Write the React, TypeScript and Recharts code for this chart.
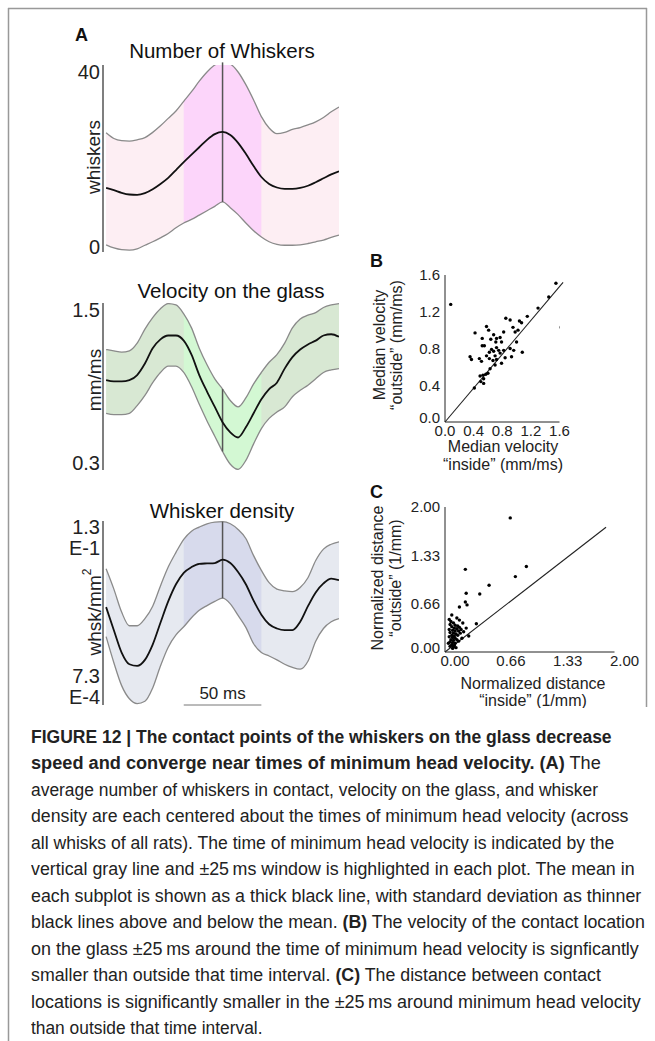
import React, { useLayoutEffect, useRef, useState } from 'react';
import { ComposedChart, Area, Line, XAxis, YAxis, ReferenceLine, ScatterChart, Scatter } from 'recharts';

const FONT = '"Liberation Sans", Arial, Helvetica, sans-serif';

// time axis of the A panels (ms, relative to minimum head velocity)
const TIMES = [-75, -70, -65, -60, -55, -50, -45, -40, -35, -30, -25, -20, -15, -10, -5, 0, 5, 10, 15, 20, 25, 30, 35, 40, 45, 50, 55, 60, 65, 70, 75];

// Number of whiskers
const WHISK_MEAN = [13.5, 13.0, 12.4, 12.0, 11.9, 12.3, 13.2, 14.4, 15.8, 17.6, 19.4, 21.1, 22.8, 24.5, 25.8, 26.3, 25.6, 23.8, 21.3, 18.5, 16.0, 14.4, 13.6, 13.3, 13.3, 13.5, 14.0, 14.8, 15.7, 16.6, 17.3];
const WHISK_HI = [26.1, 24.8, 24.3, 24.2, 24.5, 25.0, 26.2, 27.7, 29.4, 31.1, 33.3, 35.5, 37.9, 40.0, 41.6, 42.2, 41.8, 40.0, 37.1, 33.6, 29.8, 27.2, 25.9, 26.2, 26.9, 27.3, 27.9, 28.6, 29.6, 30.9, 32.0];
const WHISK_LO = [0.5, -0.2, -0.6, -0.7, -0.4, 0.4, 1.2, 2.1, 3.1, 4.4, 5.5, 6.3, 7.3, 8.3, 9.3, 10.3, 9.0, 7.4, 5.5, 3.7, 2.3, 1.2, 0.6, 0.4, 0.4, 0.5, 0.8, 1.2, 1.6, 2.2, 2.7];

// Velocity on the glass (mm/ms)
const VEL_MEAN = [0.95, 0.94, 0.94, 0.95, 0.99, 1.08, 1.2, 1.27, 1.3, 1.3, 1.26, 1.15, 0.99, 0.86, 0.74, 0.62, 0.54, 0.5, 0.58, 0.69, 0.8, 0.88, 0.93, 1.04, 1.13, 1.19, 1.23, 1.26, 1.3, 1.31, 1.29];
const VEL_HI = [1.19, 1.18, 1.17, 1.18, 1.24, 1.35, 1.44, 1.51, 1.55, 1.54, 1.47, 1.36, 1.2, 1.07, 0.96, 0.88, 0.79, 0.74, 0.81, 0.92, 1.01, 1.09, 1.15, 1.24, 1.36, 1.43, 1.46, 1.48, 1.52, 1.54, 1.55];
const VEL_LO = [0.69, 0.68, 0.68, 0.69, 0.75, 0.83, 0.93, 1.01, 1.06, 1.06, 1.01, 0.9, 0.76, 0.63, 0.51, 0.39, 0.29, 0.25, 0.32, 0.45, 0.57, 0.65, 0.7, 0.74, 0.82, 0.87, 0.91, 0.96, 1.01, 1.03, 1.04];

// Whisker density (whsk/mm^2, log axis)
const DENS_MEAN = [0.0115, 0.006, 0.0032, 0.0023, 0.0022, 0.0026, 0.004, 0.0074, 0.0135, 0.0219, 0.0302, 0.0355, 0.0389, 0.0394, 0.0398, 0.0437, 0.0398, 0.0309, 0.0219, 0.0138, 0.0093, 0.0071, 0.0063, 0.006, 0.006, 0.0076, 0.0118, 0.0174, 0.0224, 0.0257, 0.0245];
const DENS_HI = [0.0339, 0.0191, 0.01, 0.0068, 0.0068, 0.0083, 0.0118, 0.0209, 0.0355, 0.0537, 0.0776, 0.0977, 0.1096, 0.1202, 0.1259, 0.1274, 0.1202, 0.1023, 0.0794, 0.049, 0.0324, 0.0229, 0.0191, 0.0182, 0.0178, 0.02, 0.0263, 0.0427, 0.0589, 0.0676, 0.0724];
const DENS_LO = [0.005, 0.0024, 0.00126, 0.00087, 0.00076, 0.00081, 0.00118, 0.00219, 0.00372, 0.00525, 0.00661, 0.00851, 0.0105, 0.012, 0.0135, 0.0148, 0.0126, 0.0091, 0.0065, 0.0041, 0.0032, 0.0029, 0.0026, 0.0023, 0.0021, 0.002, 0.0025, 0.0044, 0.0063, 0.0076, 0.0083];

const WINDOW = 25;

// B: median velocity inside vs outside the window
const B_INSIDE = [0.08, 0.42, 0.58, 0.52, 0.55, 0.48, 0.51, 0.41, 0.68, 0.72, 0.64, 0.77, 0.79, 0.71, 0.75, 0.65, 0.68, 0.7, 0.62, 0.58, 0.62, 0.67, 0.72, 0.77, 0.82, 0.84, 0.91, 0.93, 1.0, 1.04, 1.07, 0.95, 0.63, 0.57, 0.53, 0.49, 0.54, 0.5, 0.54, 0.6, 0.7, 0.79, 0.91, 0.85, 0.98, 0.82, 1.02, 0.96, 0.61, 0.52, 0.35, 0.37, 0.72, 1.08, 1.3, 1.45, 1.55, 1.62, 1.15];
const B_OUTSIDE = [1.28, 0.97, 1.04, 0.83, 0.83, 0.69, 0.66, 0.37, 0.95, 0.91, 0.9, 0.92, 0.87, 0.87, 0.78, 0.79, 0.77, 0.72, 0.76, 0.72, 0.69, 0.67, 0.68, 0.75, 0.78, 0.7, 0.8, 0.71, 0.87, 1.1, 1.08, 1.03, 0.58, 0.52, 0.51, 0.5, 0.47, 0.44, 0.42, 0.53, 0.62, 0.64, 1.11, 1.13, 0.98, 0.98, 1.0, 0.78, 1.0, 0.91, 0.71, 0.68, 0.81, 0.76, 1.24, 1.36, 1.51, 1.03, 1.15];
const B_TICKS = [0, 0.4, 0.8, 1.2, 1.6];
const B_DIAG = [{ x: 0, y: 0 }, { x: 1.65, y: 1.52 }];

// C: normalized distance inside vs outside the window
const C_INSIDE = [0.77, 0.96, 0.83, 0.24, 0.52, 0.41, 0.25, 0.24, 0.26, 0.17, 0.37, 0.08, 0.05, 0.07, 0.1, 0.06, 0.12, 0.15, 0.08, 0.11, 0.14, 0.17, 0.05, 0.09, 0.12, 0.16, 0.19, 0.06, 0.1, 0.13, 0.08, 0.11, 0.15, 0.05, 0.09, 0.12, 0.07, 0.1, 0.14, 0.06, 0.09, 0.12, 0.08, 0.11, 0.06, 0.1, 0.13, 0.16, 0.18, 0.21, 0.22, 0.2, 0.04, 0.17, 0.14, 0.25, 0.09, 0.28];
const C_OUTSIDE = [1.85, 1.18, 1.04, 1.14, 0.92, 0.8, 0.81, 0.69, 0.65, 0.62, 0.39, 0.51, 0.45, 0.42, 0.4, 0.38, 0.37, 0.36, 0.35, 0.33, 0.32, 0.34, 0.31, 0.3, 0.29, 0.29, 0.31, 0.27, 0.26, 0.25, 0.23, 0.22, 0.23, 0.21, 0.2, 0.19, 0.17, 0.16, 0.17, 0.14, 0.13, 0.12, 0.1, 0.09, 0.08, 0.07, 0.06, 0.15, 0.26, 0.4, 0.28, 0.19, 0.12, 0.44, 0.47, 0.33, 0.05, 0.22];
const C_TICKS = [0, 0.66, 1.33, 2.0];
const C_DIAG = [{ x: 0, y: 0 }, { x: 1.9, y: 1.72 }];

const CAPTION: { parts: [string, boolean][]; w: number }[] = [
  { parts: [['FIGURE 12 | The contact points of the whiskers on the glass decrease', true]], w: 581 },
  { parts: [['speed and converge near times of minimum head velocity. (A)', true], [' The', false]], w: 570 },
  { parts: [['average number of whiskers in contact, velocity on the glass, and whisker', false]], w: 567 },
  { parts: [['density are each centered about the times of minimum head velocity (across', false]], w: 597 },
  { parts: [['all whisks of all rats). The time of minimum head velocity is indicated by the', false]], w: 583 },
  { parts: [['vertical gray line and \u00b125\u2009ms window is highlighted in each plot. The mean in', false]], w: 604 },
  { parts: [['each subplot is shown as a thick black line, with standard deviation as thinner', false]], w: 610 },
  { parts: [['black lines above and below the mean. ', false], ['(B)', true], [' The velocity of the contact location', false]], w: 614 },
  { parts: [['on the glass \u00b125\u2009ms around the time of minimum head velocity is signficantly', false]], w: 608 },
  { parts: [['smaller than outside that time interval. ', false], ['(C)', true], [' The distance between contact', false]], w: 570 },
  { parts: [['locations is significantly smaller in the \u00b125\u2009ms around minimum head velocity', false]], w: 610 },
  { parts: [['than outside that time interval.', false]], w: 231 },
];

type Row = { t: number; band: [number, number]; hl: [number, number] | null; mean: number; hi: number; lo: number };

function buildRows(lo: number[], mean: number[], hi: number[]): Row[] {
  return TIMES.map((t, i) => ({
    t,
    band: [lo[i], hi[i]],
    hl: Math.abs(t) <= WINDOW ? [lo[i], hi[i]] : null,
    mean: mean[i],
    hi: hi[i],
    lo: lo[i],
  }));
}

const DensityTick = (props: any) => {
  const { x, y, payload } = props;
  const top = payload.value > 0.01;
  const [a, b] = top ? ['1.3', 'E-1'] : ['7.3', 'E-4'];
  const y1 = top ? y + 13 : y - 22;
  return (
    <text x={x} y={y1} textAnchor="end" fontSize={20} fill="#222" fontFamily={FONT}>
      <tspan x={x}>{a}</tspan>
      <tspan x={x} dy={21}>{b}</tspan>
    </text>
  );
};

function TracePanel(props: {
  rows: Row[]; top: number; height: number; plotTop: number; plotBottom: number;
  domain: [number, number]; ticks: number[]; log?: boolean; tick?: any;
  fill: string; hlFill: string; children?: React.ReactNode;
}) {
  const { rows, top, height, plotTop, plotBottom, domain, ticks, log, tick, fill, hlFill, children } = props;
  const zero = rows.find((r) => r.t === 0)!;
  return (
    <div style={{ position: 'absolute', left: 0, top }}>
      <ComposedChart
        width={360}
        height={height}
        data={rows}
        margin={{ top: plotTop - top, bottom: top + height - plotBottom, left: 43, right: 21 }}
      >
        <XAxis dataKey="t" type="number" domain={[-77, 75]} hide allowDataOverflow />
        <YAxis
          domain={domain}
          ticks={ticks}
          scale={log ? 'log' : 'auto'}
          type="number"
          allowDataOverflow
          width={60}
          interval={0}
          axisLine={{ stroke: '#555', strokeWidth: 1.5 }}
          tickLine={false}
          tickSize={0}
          tickMargin={3}
          tick={tick || { fontSize: 20, fill: '#222', fontFamily: FONT }}
        />
        <Area dataKey="band" type="monotone" fill={fill} fillOpacity={1} stroke="none" isAnimationActive={false} />
        <Area dataKey="hl" type="monotone" fill={hlFill} fillOpacity={1} stroke="none" isAnimationActive={false} />
        <Line dataKey="hi" type="monotone" stroke="#8a8a8a" strokeWidth={1.3} dot={false} isAnimationActive={false} />
        <Line dataKey="lo" type="monotone" stroke="#8a8a8a" strokeWidth={1.3} dot={false} isAnimationActive={false} />
        <ReferenceLine
          segment={[{ x: 0, y: zero.lo }, { x: 0, y: zero.hi }]}
          stroke="#555"
          strokeWidth={1.5}
          ifOverflow="visible"
        />
        <Line dataKey="mean" type="monotone" stroke="#111" strokeWidth={1.8} dot={false} isAnimationActive={false} />
        {children}
      </ComposedChart>
    </div>
  );
}

const dotShape = (p: any) => <circle cx={p.cx} cy={p.cy} r={1.7} fill="#000" />;

const makeYTick = (digits: number) => (p: any) => (
  <text
    x={p.x}
    y={p.y + (p.payload.value === 0 ? -4 : 0)}
    dy="0.355em"
    textAnchor="end"
    fontSize={15}
    fill="#222"
    fontFamily={FONT}
  >
    {Number(p.payload.value).toFixed(digits)}
  </text>
);

function ScatterPanel(props: {
  left: number; top: number; width: number; height: number; margin: any;
  xs: number[]; ys: number[]; domain: [number, number]; ticks: number[];
  digits: number; diag: { x: number; y: number }[]; xTickShift: number;
}) {
  const { left, top, width, height, margin, xs, ys, domain, ticks, digits, diag, xTickShift } = props;
  const pts = xs.map((x, i) => ({ x, y: ys[i] }));
  const tickStyle = { fontSize: 15, fill: '#222', fontFamily: FONT };
  return (
    <div style={{ position: 'absolute', left, top }}>
      <ScatterChart width={width} height={height} margin={margin}>
        <XAxis
          dataKey="x"
          type="number"
          domain={domain}
          ticks={ticks}
          interval={0}
          height={20}
          allowDataOverflow
          axisLine={{ stroke: '#222' }}
          tickLine={false}
          tickSize={0}
          tickMargin={3}
          tickFormatter={(v: number) => v.toFixed(digits)}
          tick={{ ...tickStyle, dx: xTickShift } as any}
        />
        <YAxis
          dataKey="y"
          type="number"
          domain={domain}
          ticks={ticks}
          interval={0}
          width={40}
          allowDataOverflow
          axisLine={{ stroke: '#222' }}
          tickLine={false}
          tickSize={0}
          tickMargin={5}
          tick={makeYTick(digits)}
        />
        <ReferenceLine segment={diag} stroke="#222" strokeWidth={1.1} ifOverflow="visible" />
        <Scatter data={pts} shape={dotShape} isAnimationActive={false} />
      </ScatterChart>
    </div>
  );
}

function FitLine({ top, width, parts }: { top: number; width: number; parts: [string, boolean][] }) {
  const ref = useRef<HTMLSpanElement>(null);
  const [s, setS] = useState(1);
  useLayoutEffect(() => {
    if (ref.current) {
      const w = ref.current.offsetWidth;
      if (w > 0) setS(width / w);
    }
  }, [width]);
  return (
    <div
      style={{
        position: 'absolute',
        left: 31,
        top,
        whiteSpace: 'nowrap',
        transformOrigin: '0 0',
        transform: `scaleX(${s})`,
        fontSize: 17.5,
        lineHeight: '26px',
        color: '#222',
      }}
    >
      <span ref={ref} style={{ display: 'inline-block' }}>
        {parts.map(([txt, bold], i) => (
          <span key={i} style={{ fontWeight: bold ? 700 : 400 }}>{txt}</span>
        ))}
      </span>
    </div>
  );
}

export default function App() {
  const whisk = buildRows(WHISK_LO, WHISK_MEAN, WHISK_HI);
  const vel = buildRows(VEL_LO, VEL_MEAN, VEL_HI);
  const dens = buildRows(DENS_LO, DENS_MEAN, DENS_HI);
  const rot = (x: number, y: number) => `translate(${x},${y}) rotate(-90)`;
  const title = { fontSize: 20.5, fill: '#111', textAnchor: 'middle' as const };
  const small = { fontSize: 16, fill: '#222', textAnchor: 'middle' as const, dominantBaseline: 'central' as const };

  return (
    <div style={{ position: 'relative', width: 655, height: 1041, background: '#fff', fontFamily: FONT, overflow: 'hidden' }}>
      <style>{'body{margin:0}'}</style>
      <div style={{ position: 'absolute', left: 0, top: 0, width: 655, height: 708, overflow: 'hidden' }}>
        <TracePanel rows={whisk} top={40} height={230} plotTop={65} plotBottom={252}
          domain={[-1.14, 41.6]} ticks={[0, 40]} fill="#fdeef3" hlFill="#fcd5fa" />
        <TracePanel rows={vel} top={290} height={200} plotTop={303} plotBottom={470}
          domain={[0.245, 1.555]} ticks={[0.3, 1.5]} fill="#d8e8d3" hlFill="#d3f8d3" />
        <TracePanel rows={dens} top={505} height={215} plotTop={521} plotBottom={705}
          domain={[0.00073, 0.13]} ticks={[0.00073, 0.13]} log tick={<DensityTick />}
          fill="#e6e9f0" hlFill="#d7daec">
          <ReferenceLine
            segment={[{ x: -WINDOW, y: 0.00073 }, { x: WINDOW, y: 0.00073 }]}
            stroke="#777"
            strokeWidth={1}
            ifOverflow="visible"
            label={{ value: '50 ms', position: 'top', offset: 6, fontSize: 17, fill: '#222', fontFamily: FONT }}
          />
        </TracePanel>

        <ScatterPanel left={330} top={250} width={250} height={200}
          margin={{ top: 25, right: 20.5, left: 75, bottom: 8 }}
          xs={B_INSIDE} ys={B_OUTSIDE} domain={[0, 1.6]} ticks={B_TICKS} digits={1} diag={B_DIAG} xTickShift={0} />
        <ScatterPanel left={330} top={480} width={325} height={200}
          margin={{ top: 27, right: 40.5, left: 75, bottom: 8 }}
          xs={C_INSIDE} ys={C_OUTSIDE} domain={[0, 2]} ticks={C_TICKS} digits={2} diag={C_DIAG} xTickShift={10} />

        <svg width={655} height={708} style={{ position: 'absolute', left: 0, top: 0, pointerEvents: 'none' }} fontFamily={FONT}>
          <text x={75} y={41} fontSize={18} fontWeight={700} fill="#111">A</text>
          <text x={222} y={58} {...title}>Number of Whiskers</text>
          <text x={231} y={298} {...title}>Velocity on the glass</text>
          <text x={222} y={518} {...title}>Whisker density</text>
          <text transform={rot(93, 157)} fontSize={19} fill="#222" textAnchor="middle" dominantBaseline="central">whiskers</text>
          <text transform={rot(94, 380)} fontSize={19} fill="#222" textAnchor="middle" dominantBaseline="central">mm/ms</text>
          <text transform={rot(94, 612)} fontSize={19} fill="#222" textAnchor="middle" dominantBaseline="central">
            whsk/mm<tspan fontSize={12} dy={-7}>2</tspan>
          </text>

          <text x={370} y={267} fontSize={18} fontWeight={700} fill="#111">B</text>
          <text transform={rot(379, 345)} {...small}>Median velocity</text>
          <text transform={rot(396, 345)} {...small}>{'\u201coutside\u201d (mm/ms)'}</text>
          <text x={503} y={446} {...small}>Median velocity</text>
          <text x={503} y={464} {...small}>{'\u201cinside\u201d (mm/ms)'}</text>

          <text x={370} y={498} fontSize={18} fontWeight={700} fill="#111">C</text>
          <text transform={rot(377, 578)} {...small}>Normalized distance</text>
          <text transform={rot(395, 578)} {...small}>{'\u201coutside\u201d (1/mm)'}</text>
          <text x={533} y={683} {...small}>Normalized distance</text>
          <text x={533} y={700} {...small}>{'\u201cinside\u201d (1/mm)'}</text>
        </svg>
      </div>

      <svg width={655} height={1041} style={{ position: 'absolute', left: 0, top: 0, pointerEvents: 'none' }}>
        <line x1={8} y1={8.5} x2={647} y2={8.5} stroke="#999" strokeWidth={1.5} />
        <line x1={8.5} y1={8} x2={8.5} y2={1041} stroke="#999" strokeWidth={1.5} />
        <line x1={646.5} y1={8} x2={646.5} y2={707} stroke="#999" strokeWidth={1.5} />
      </svg>

      {CAPTION.map((ln, k) => (
        <FitLine key={k} top={724 + 26.45 * k} width={ln.w} parts={ln.parts} />
      ))}
    </div>
  );
}
